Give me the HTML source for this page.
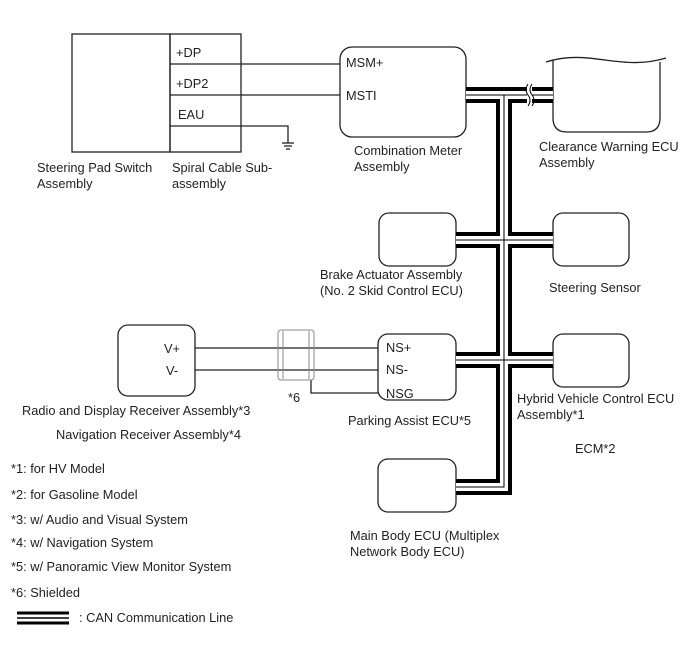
<!DOCTYPE html>
<html><head><meta charset="utf-8"><style>
body{margin:0;background:#fff}
svg text{font-family:"Liberation Sans",Arial,sans-serif;font-size:12.8px;fill:#222}
</style></head><body>
<svg width="688" height="658" viewBox="0 0 688 658" xmlns="http://www.w3.org/2000/svg">
<g fill="none" stroke="#222" stroke-width="1.3">
<rect x="72" y="34" width="98" height="118"/>
<rect x="170" y="34" width="71" height="118"/>
<line x1="170" y1="64" x2="340" y2="64"/>
<line x1="170" y1="95" x2="340" y2="95"/>
<polyline points="170,126 288,126 288,143"/>
<line x1="282" y1="143" x2="294" y2="143"/><line x1="284" y1="146" x2="292" y2="146"/><line x1="286" y1="149" x2="290" y2="149"/>
<rect x="340" y="47" width="126" height="90" rx="12"/>
<path d="M546,62 C590,48 620,72 666,58 M553,60 L553,118 Q553,132 567,132 L646,132 Q660,132 660,118 L660,62"/>
<rect x="379" y="213" width="77" height="53" rx="10"/>
<rect x="553" y="213" width="76" height="53" rx="10"/>
<rect x="118" y="325" width="77" height="71" rx="10"/>
<rect x="378" y="334" width="78" height="66" rx="10"/>
<rect x="553" y="334" width="76" height="53" rx="10"/>
<rect x="378" y="459" width="78" height="53" rx="10"/>
<line x1="195" y1="348" x2="378" y2="348"/>
<line x1="195" y1="370" x2="378" y2="370"/>
<polyline points="311,380 311,393 378,393"/>
</g>
<g fill="none" stroke="#888" stroke-width="1">
<rect x="278" y="330" width="36" height="50" rx="3"/>
<line x1="283" y1="331" x2="283" y2="379"/><line x1="309" y1="331" x2="309" y2="379"/>
</g>
<g fill="none" stroke-linejoin="miter">
<g stroke="#000" stroke-width="16">
<path d="M466,95 L553,95"/><path d="M504,95 L504,487 L456,487"/>
<path d="M456,240 L553,240"/><path d="M456,360 L553,360"/>
</g>
<g stroke="#fff" stroke-width="8">
<path d="M466,95 L553,95"/><path d="M504,95 L504,487 L456,487"/>
<path d="M456,240 L553,240"/><path d="M456,360 L553,360"/>
</g>
<g stroke="#000" stroke-width="1">
<path d="M466,95 L553,95"/><path d="M504,95 L504,487 L456,487"/>
<path d="M456,240 L553,240"/><path d="M456,360 L553,360"/>
</g>
<rect x="527" y="84" width="5" height="22" fill="#fff" stroke="none"/>
<path d="M528,84 Q524,90 528,95 Q532,100 528,106 M532,84 Q528,90 532,95 Q536,100 532,106" stroke="#000" stroke-width="1"/>
<g stroke="#000" stroke-width="3"><line x1="17" y1="613" x2="69" y2="613"/><line x1="17" y1="623" x2="69" y2="623"/></g>
<line x1="17" y1="618" x2="69" y2="618" stroke="#000" stroke-width="1.5"/>
</g>
<text x="176" y="57">+DP</text><text x="176" y="88">+DP2</text><text x="178" y="119">EAU</text>
<text x="37" y="172">Steering Pad Switch</text><text x="37" y="188">Assembly</text>
<text x="172" y="172">Spiral Cable Sub-</text><text x="172" y="188">assembly</text>
<text x="346" y="67">MSM+</text><text x="346" y="100">MSTI</text>
<text x="354" y="155">Combination Meter</text><text x="354" y="171">Assembly</text>
<text x="539" y="151">Clearance Warning ECU</text><text x="539" y="167">Assembly</text>
<text x="320" y="279">Brake Actuator Assembly</text><text x="320" y="295">(No. 2 Skid Control ECU)</text>
<text x="549" y="292">Steering Sensor</text>
<text x="164" y="353">V+</text><text x="166" y="375">V-</text>
<text x="386" y="352">NS+</text><text x="386" y="374">NS-</text><text x="386" y="398">NSG</text>
<text x="288" y="402">*6</text>
<text x="22" y="415">Radio and Display Receiver Assembly*3</text>
<text x="56" y="439">Navigation Receiver Assembly*4</text>
<text x="348" y="425">Parking Assist ECU*5</text>
<text x="517" y="403">Hybrid Vehicle Control ECU</text><text x="517" y="419">Assembly*1</text>
<text x="575" y="453">ECM*2</text>
<text x="11" y="473">*1: for HV Model</text>
<text x="11" y="499">*2: for Gasoline Model</text>
<text x="11" y="524">*3: w/ Audio and Visual System</text>
<text x="11" y="547">*4: w/ Navigation System</text>
<text x="11" y="571">*5: w/ Panoramic View Monitor System</text>
<text x="11" y="597">*6: Shielded</text>
<text x="79" y="622">: CAN Communication Line</text>
<text x="350" y="540">Main Body ECU (Multiplex</text><text x="350" y="556">Network Body ECU)</text>
</svg>
</body></html>
